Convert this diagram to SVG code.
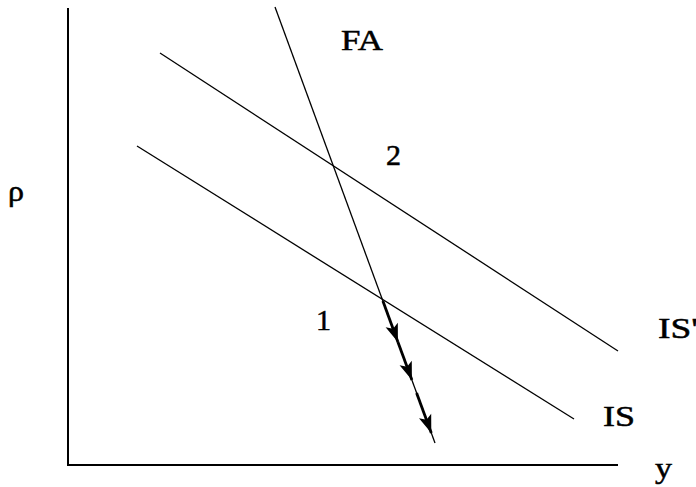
<svg xmlns="http://www.w3.org/2000/svg" width="696" height="487" viewBox="0 0 696 487">
  <style>
    .ln { stroke: #000; stroke-width: 1.3; fill: none; }
    .ax { stroke: #000; stroke-width: 2; fill: none; }
    .thick { stroke: #000; stroke-width: 2.8; fill: none; }
    .lbl { font-family: "Liberation Serif", "Times New Roman", serif; font-size: 29px; fill: #000; stroke: #000; stroke-width: 0.5; }
  </style>
  <defs>
    <marker id="arr" markerUnits="userSpaceOnUse" markerWidth="20" markerHeight="15" viewBox="-19 -7.5 20 15" refX="0" refY="0" orient="auto">
      <path d="M0,0 L-18,-6.5 L-14,0 L-18,6.5 Z" fill="#000"/>
    </marker>
  </defs>
  <rect width="696" height="487" fill="#fff"/>
  <g id="axes">
    <line class="ax" x1="68" y1="8" x2="68" y2="466"/>
    <line class="ax" x1="67" y1="465" x2="618" y2="465"/>
    <text class="lbl" x="8" y="201" textLength="16" lengthAdjust="spacingAndGlyphs">ρ</text>
    <text class="lbl" x="655" y="478" textLength="17" lengthAdjust="spacingAndGlyphs">y</text>
  </g>
  <g id="IS-prime">
    <line class="ln" x1="160" y1="53" x2="618" y2="351"/>
    <text class="lbl" x="658" y="338" textLength="40" lengthAdjust="spacingAndGlyphs">IS'</text>
  </g>
  <g id="IS">
    <line class="ln" x1="137" y1="146" x2="574" y2="419"/>
    <text class="lbl" x="603" y="426" textLength="32" lengthAdjust="spacingAndGlyphs">IS</text>
  </g>
  <g id="FA">
    <line class="ln" x1="275" y1="7" x2="435" y2="443"/>
    <text class="lbl" x="341" y="50" textLength="42" lengthAdjust="spacingAndGlyphs">FA</text>
  </g>
  <g id="point-2">
    <text class="lbl" x="386" y="165" textLength="15" lengthAdjust="spacingAndGlyphs">2</text>
  </g>
  <g id="point-1">
    <text class="lbl" x="316" y="330" textLength="15" lengthAdjust="spacingAndGlyphs">1</text>
  </g>
  <g id="connectors">
    <line class="thick" x1="382.9" y1="301" x2="397.9" y2="342" marker-end="url(#arr)"/>
    <line class="thick" x1="397.9" y1="342" x2="411.9" y2="380" marker-end="url(#arr)"/>
    <line class="thick" x1="416.6" y1="393" x2="431.3" y2="433" marker-end="url(#arr)"/>
  </g>
</svg>
